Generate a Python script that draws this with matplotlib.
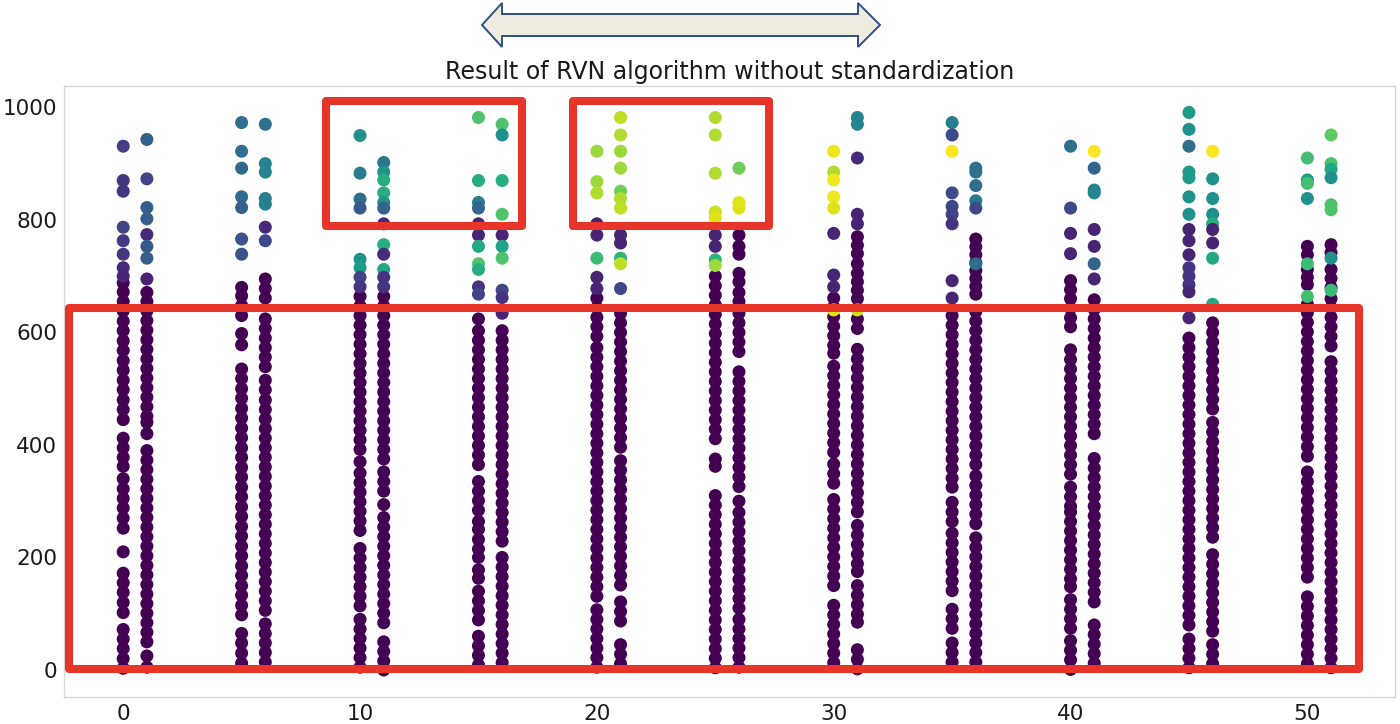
import matplotlib
matplotlib.use("Agg")
import matplotlib.pyplot as plt
from matplotlib.patches import Polygon, Rectangle

# x positions of the columns
cols = [0, 1, 5, 6, 10, 11, 15, 16, 20, 21, 25, 26, 30, 31, 35, 36, 40, 41, 45, 46, 50, 51]

# per column: dark points (value 0), then coloured points and their values (0..1)
c00_low = [688, 672, 655, 638, 620, 603, 585, 568, 550, 533, 515, 498, 480, 463, 445, 412, 395, 378, 362, 340, 322, 305, 288, 270, 252, 210, 172, 155, 138, 120, 102, 72, 55, 38, 20, 3]
c00_top = [931, 870, 851, 787, 763, 739, 715, 700]
c00_val = [0.18, 0.15, 0.15, 0.2, 0.17, 0.15, 0.12, 0.1]

c01_low = [671, 655, 638, 621, 604, 587, 570, 553, 536, 519, 502, 485, 468, 451, 440, 420, 390, 373, 356, 339, 322, 305, 288, 271, 254, 237, 220, 203, 186, 169, 152, 135, 118, 101, 84, 67, 50, 25, 5]
c01_top = [943, 873, 822, 802, 774, 753, 732, 695]
c01_val = [0.3, 0.2, 0.3, 0.3, 0.12, 0.28, 0.3, 0.1]

c05_low = [680, 665, 648, 630, 598, 578, 535, 518, 500, 483, 465, 448, 430, 413, 395, 378, 360, 343, 325, 308, 290, 273, 255, 238, 220, 203, 185, 168, 150, 133, 115, 98, 65, 48, 30, 12]
c05_top = [973, 922, 892, 841, 822, 766, 739]
c05_val = [0.36, 0.36, 0.34, 0.34, 0.3, 0.25, 0.25]

c06_low = [695, 678, 661, 624, 607, 590, 573, 556, 539, 515, 498, 480, 463, 446, 429, 412, 395, 378, 361, 344, 327, 310, 293, 276, 259, 242, 225, 208, 191, 174, 157, 140, 123, 106, 82, 65, 48, 31, 14]
c06_top = [970, 900, 885, 838, 828, 787, 763]
c06_val = [0.36, 0.45, 0.45, 0.42, 0.42, 0.12, 0.22]

c10_low = [664, 647, 630, 613, 596, 579, 562, 545, 528, 511, 494, 477, 460, 443, 426, 409, 392, 370, 350, 333, 316, 299, 282, 265, 248, 216, 199, 182, 165, 148, 131, 114, 90, 73, 56, 39, 22, 5]
c10_top = [950, 883, 837, 821, 730, 715, 698, 681]
c10_val = [0.5, 0.42, 0.35, 0.28, 0.5, 0.55, 0.2, 0.15]

c11_low = [664, 647, 630, 613, 596, 579, 562, 545, 528, 511, 494, 477, 460, 443, 426, 409, 392, 375, 352, 335, 318, 294, 271, 254, 237, 220, 203, 186, 169, 152, 135, 118, 101, 84, 50, 33, 16, 0]
c11_top = [902, 885, 871, 848, 831, 821, 793, 756, 739, 712, 698, 681]
c11_val = [0.4, 0.5, 0.62, 0.62, 0.5, 0.32, 0.1, 0.62, 0.12, 0.6, 0.15, 0.15]

c15_low = [624, 603, 586, 569, 552, 535, 518, 501, 484, 467, 450, 433, 416, 399, 382, 365, 335, 318, 301, 284, 264, 250, 232, 215, 200, 178, 163, 140, 123, 106, 89, 60, 43, 26, 9]
c15_top = [982, 870, 831, 821, 793, 773, 753, 722, 712, 681, 668]
c15_val = [0.72, 0.62, 0.42, 0.32, 0.1, 0.1, 0.6, 0.72, 0.62, 0.15, 0.2]

c16_low = [603, 586, 569, 552, 535, 518, 501, 484, 467, 450, 433, 416, 399, 382, 365, 348, 331, 314, 297, 280, 263, 246, 229, 200, 183, 166, 149, 132, 115, 98, 81, 64, 47, 30, 13]
c16_top = [970, 951, 870, 810, 773, 753, 732, 675, 662, 634]
c16_val = [0.72, 0.5, 0.62, 0.72, 0.1, 0.58, 0.72, 0.2, 0.15, 0.1]

c20_low = [661, 644, 627, 610, 593, 573, 556, 539, 522, 505, 488, 471, 454, 437, 420, 403, 386, 369, 352, 335, 318, 301, 284, 267, 250, 233, 216, 199, 182, 165, 148, 131, 107, 90, 73, 56, 39, 22, 5]
c20_top = [922, 868, 848, 793, 773, 732, 698, 678]
c20_val = [0.85, 0.85, 0.88, 0.1, 0.1, 0.68, 0.1, 0.1]

c21_low = [634, 617, 600, 583, 566, 549, 532, 515, 498, 481, 464, 447, 430, 413, 396, 372, 355, 338, 321, 304, 287, 270, 253, 236, 219, 202, 185, 168, 151, 121, 104, 87, 45, 28, 11]
c21_top = [982, 951, 922, 892, 851, 838, 821, 773, 759, 732, 722, 678]
c21_val = [0.9, 0.88, 0.85, 0.85, 0.78, 0.88, 0.9, 0.1, 0.1, 0.65, 0.9, 0.22]

c25_low = [700, 683, 666, 649, 632, 615, 598, 581, 564, 547, 530, 513, 496, 479, 462, 445, 428, 411, 375, 362, 310, 293, 276, 259, 242, 225, 208, 191, 174, 157, 140, 123, 106, 89, 72, 55, 38, 21, 4]
c25_top = [982, 951, 883, 814, 804, 773, 753, 729, 719]
c25_val = [0.88, 0.88, 0.88, 0.92, 0.95, 0.1, 0.1, 0.65, 0.85]

c26_low = [773, 753, 739, 705, 690, 671, 655, 634, 617, 600, 583, 566, 530, 513, 496, 479, 462, 445, 428, 411, 394, 377, 360, 343, 326, 300, 280, 263, 246, 229, 212, 195, 178, 161, 144, 127, 110, 90, 73, 56, 39, 22, 5]
c26_top = [892, 831, 821]
c26_val = [0.78, 0.95, 0.95]

c30_low = [661, 645, 628, 611, 594, 577, 563, 540, 523, 506, 489, 472, 455, 438, 421, 404, 387, 366, 349, 332, 303, 286, 269, 252, 235, 218, 201, 184, 167, 150, 115, 98, 81, 64, 47, 30, 13]
c30_top = [922, 885, 871, 841, 821, 776, 702, 681, 640]
c30_val = [0.98, 0.88, 0.98, 0.98, 0.95, 0.1, 0.1, 0.1, 0.95]

c31_low = [770, 755, 740, 722, 705, 690, 675, 660, 624, 607, 570, 553, 536, 519, 502, 485, 468, 451, 434, 417, 400, 383, 366, 349, 332, 315, 298, 281, 257, 240, 223, 206, 189, 175, 150, 133, 116, 99, 85, 36, 19, 2]
c31_top = [982, 970, 910, 810, 793, 640]
c31_val = [0.45, 0.45, 0.12, 0.1, 0.1, 0.92]

c35_low = [630, 613, 596, 579, 562, 545, 528, 511, 494, 477, 460, 443, 426, 409, 392, 375, 358, 341, 325, 298, 281, 264, 243, 226, 209, 192, 175, 158, 141, 108, 91, 74, 48, 31, 14]
c35_top = [973, 951, 922, 848, 824, 810, 793, 692, 661]
c35_val = [0.42, 0.22, 1.0, 0.22, 0.22, 0.2, 0.15, 0.1, 0.1]

c36_low = [766, 752, 738, 724, 710, 696, 682, 668, 637, 620, 603, 586, 569, 552, 535, 518, 501, 484, 467, 450, 433, 416, 399, 382, 365, 345, 328, 311, 294, 277, 260, 235, 218, 201, 184, 167, 150, 133, 116, 99, 82, 65, 48, 31, 14]
c36_top = [892, 885, 861, 834, 821, 722]
c36_val = [0.36, 0.36, 0.36, 0.4, 0.22, 0.36]

c40_low = [692, 676, 660, 643, 626, 610, 569, 552, 535, 518, 501, 484, 467, 450, 433, 416, 399, 382, 365, 348, 325, 308, 291, 281, 264, 247, 230, 213, 196, 179, 162, 148, 125, 108, 91, 74, 52, 35, 18, 1]
c40_top = [931, 821, 776, 740]
c40_val = [0.36, 0.22, 0.1, 0.1]

c41_low = [658, 641, 624, 607, 590, 573, 556, 539, 522, 505, 488, 471, 454, 437, 420, 376, 359, 342, 325, 308, 291, 274, 257, 240, 223, 206, 189, 172, 155, 138, 121, 80, 63, 46, 29, 12]
c41_top = [922, 892, 853, 848, 783, 753, 722, 695]
c41_val = [1.0, 0.32, 0.45, 0.45, 0.1, 0.1, 0.32, 0.1]

c45_low = [590, 573, 556, 539, 522, 505, 488, 471, 454, 437, 420, 403, 386, 369, 352, 335, 318, 301, 284, 267, 250, 233, 216, 199, 182, 165, 148, 131, 114, 97, 80, 55, 38, 21, 4]
c45_top = [991, 961, 931, 885, 875, 841, 810, 783, 763, 738, 715, 700, 685, 672, 626]
c45_val = [0.55, 0.5, 0.36, 0.55, 0.55, 0.5, 0.5, 0.1, 0.1, 0.1, 0.15, 0.15, 0.15, 0.1, 0.1]

c46_low = [617, 600, 583, 566, 549, 532, 515, 498, 481, 464, 440, 423, 406, 389, 372, 355, 338, 321, 304, 287, 270, 253, 236, 205, 188, 171, 154, 137, 120, 103, 86, 69, 45, 28, 11]
c46_top = [922, 873, 838, 810, 793, 783, 759, 732, 650]
c46_val = [1.0, 0.5, 0.5, 0.5, 0.62, 0.1, 0.1, 0.6, 0.6]

c50_low = [753, 738, 712, 698, 685, 650, 635, 618, 601, 584, 567, 550, 533, 516, 499, 482, 465, 448, 431, 414, 397, 380, 352, 335, 318, 301, 284, 267, 250, 233, 216, 199, 182, 165, 130, 113, 96, 79, 62, 45, 28, 11]
c50_top = [910, 871, 865, 838, 722, 664]
c50_val = [0.7, 0.55, 0.7, 0.5, 0.68, 0.7]

c51_low = [756, 742, 712, 696, 680, 660, 644, 627, 610, 593, 576, 548, 531, 514, 497, 480, 463, 446, 429, 412, 395, 378, 361, 344, 327, 310, 293, 276, 259, 242, 225, 208, 191, 174, 157, 140, 123, 106, 89, 72, 55, 38, 21, 4]
c51_top = [951, 900, 890, 875, 827, 818, 732, 675]
c51_val = [0.75, 0.72, 0.6, 0.5, 0.72, 0.72, 0.5, 0.68]

x_ticks = [0, 10, 20, 30, 40, 50]
y_ticks = [0, 200, 400, 600, 800, 1000]
title = "Result of RVN algorithm without standardization"

low = [c00_low, c01_low, c05_low, c06_low, c10_low, c11_low, c15_low, c16_low,
       c20_low, c21_low, c25_low, c26_low, c30_low, c31_low, c35_low, c36_low,
       c40_low, c41_low, c45_low, c46_low, c50_low, c51_low]
top = [c00_top, c01_top, c05_top, c06_top, c10_top, c11_top, c15_top, c16_top,
       c20_top, c21_top, c25_top, c26_top, c30_top, c31_top, c35_top, c36_top,
       c40_top, c41_top, c45_top, c46_top, c50_top, c51_top]
val = [c00_val, c01_val, c05_val, c06_val, c10_val, c11_val, c15_val, c16_val,
       c20_val, c21_val, c25_val, c26_val, c30_val, c31_val, c35_val, c36_val,
       c40_val, c41_val, c45_val, c46_val, c50_val, c51_val]

W, H = 1400, 724
fig = plt.figure(figsize=(W / 100, H / 100), dpi=100)
ax = fig.add_axes([64 / W, 1 - 697 / H, (1395 - 64) / W, (697 - 86) / H])

for x, lo, ty, tv in zip(cols, low, top, val):
    ax.scatter([x] * len(lo), lo, c=[0.0] * len(lo), cmap="viridis", vmin=0, vmax=1,
               s=88, linewidths=0)
    ax.scatter([x] * len(ty), ty, c=tv, cmap="viridis", vmin=0, vmax=1,
               s=88, linewidths=0)

ax.set_xlim(-2.5, 53.7)
ax.set_ylim(-48, 1038)
ax.set_xticks(x_ticks)
ax.set_yticks(y_ticks)
ax.tick_params(length=0, pad=5, labelsize=15.5, labelcolor="#1a1a1a")
for sp in ax.spines.values():
    sp.set_color("#d8d8d8")
    sp.set_linewidth(1.0)
ax.set_title(title, fontsize=17, pad=5, color="#1a1a1a")


def fr(px, py):
    # pixel position in the picture -> figure fraction
    return px / W, 1 - py / H


# red highlight boxes
red = "#e8352a"
for (x0, y0, x1, y1) in [(69, 308, 1359, 669), (326, 101, 522, 226), (573, 101, 769, 226)]:
    fx0, fy1 = fr(x0, y0)
    fx1, fy0 = fr(x1, y1)
    fig.add_artist(Rectangle((fx0, fy0), fx1 - fx0, fy1 - fy0, transform=fig.transFigure,
                             fill=False, edgecolor=red, linewidth=5.8, joinstyle="round"))

# double arrow above the title
arrow_px = [(482, 25), (502, 3), (502, 14), (858, 14), (858, 3), (880, 25),
            (858, 47), (858, 36), (502, 36), (502, 47)]
fig.add_artist(Polygon([fr(px, py) for px, py in arrow_px], closed=True,
                       transform=fig.transFigure, facecolor="#eeece1",
                       edgecolor="#2f4f85", linewidth=1.4))

fig.savefig("out.png", dpi=100)
